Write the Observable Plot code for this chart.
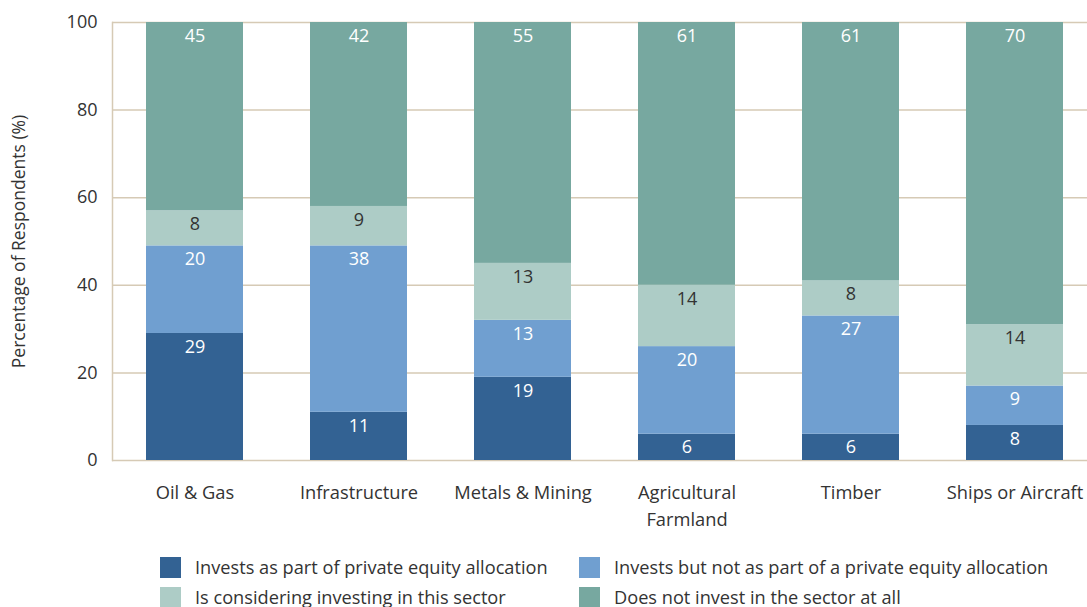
<!DOCTYPE html>
<html>
<head>
<meta charset="utf-8">
<script src="https://cdn.jsdelivr.net/npm/d3@7"></script>
<script src="https://cdn.jsdelivr.net/npm/@observablehq/plot@0.6"></script>
<style>
  html, body { margin: 0; padding: 0; background: #fff; }
  body { width: 1087px; height: 607px; overflow: hidden; font-family: "Open Sans", Lato, sans-serif; color: #333; }
  #legend { position: relative; height: 67px; }
  .item { position: absolute; display: flex; align-items: center; font-size: 18.2px; height: 22px; white-space: nowrap; }
  .sw { width: 21px; height: 21px; margin-right: 14px; flex: none; }
</style>
</head>
<body>
<div id="chart"></div>
<div id="legend"></div>
<script>
const categories = ["Oil & Gas", "Infrastructure", "Metals & Mining", "Agricultural\nFarmland", "Timber", "Ships or Aircraft"];
const seriesNames = [
  "Invests as part of private equity allocation",
  "Invests but not as part of a private equity allocation",
  "Is considering investing in this sector",
  "Does not invest in the sector at all"
];
const seriesColors = ["#336293", "#709fd0", "#adccc6", "#77a8a0"];
const labelColors = ["#ffffff", "#ffffff", "#333333", "#ffffff"];
const investsPE = [29, 11, 19, 6, 6, 8];
const investsNonPE = [20, 38, 13, 20, 27, 9];
const considering = [8, 9, 13, 14, 8, 14];
const notInvest = [45, 42, 55, 61, 61, 70];
const yTicks = [0, 20, 40, 60, 80, 100];

const seriesValues = [investsPE, investsNonPE, considering, notInvest];
const rows = [];
categories.forEach((c, i) => {
  let cum = 0;
  seriesValues.forEach((vals, s) => {
    const v = vals[i];
    rows.push({category: c, series: seriesNames[s], value: v, y1: cum, y2: cum + v,
               top: Math.min(cum + v, 100), labelColor: labelColors[s]});
    cum += v;
  });
});

const gridColor = "#d6cab5";
const chart = Plot.plot({
  width: 1087,
  height: 540,
  marginLeft: 112,
  marginRight: 0,
  marginTop: 22,
  marginBottom: 80,
  style: {fontFamily: "'Open Sans', Lato, sans-serif", fontSize: "18px", color: "#333", background: "#fff", overflow: "visible"},
  x: {domain: categories, range: [112.4, 1097], paddingInner: 0.41, paddingOuter: 0.205},
  y: {domain: [0, 100]},
  color: {domain: seriesNames, range: seriesColors},
  marks: [
    Plot.ruleY(yTicks, {stroke: gridColor, strokeWidth: 1.5}),
    Plot.frame({anchor: "left", stroke: gridColor, strokeWidth: 1.5}),
    Plot.barY(rows, {x: "category", y1: "y1", y2: "y2", fill: "series", clip: true}),
    Plot.text(rows, {x: "category", y: "top", text: d => String(d.value), fill: "labelColor", dy: 13.5, lineAnchor: "middle", fontSize: 18}),
    Plot.axisY({ticks: yTicks, tickSize: 0, tickPadding: 15, fontSize: 18, label: null}),
    Plot.axisY({ticks: [], tickSize: 0, fontSize: 17.5, label: "Percentage of Respondents (%)", labelAnchor: "center", labelArrow: "none", labelOffset: 100}),
    Plot.axisX({tickSize: 0, tickPadding: 19, fontSize: 18.3, lineHeight: 1.5, label: null})
  ]
});
document.getElementById("chart").appendChild(chart);

const legend = document.getElementById("legend");
const pos = [[160, 16], [579, 16], [160, 46], [579, 46]];
[0, 1, 2, 3].forEach((s, k) => {
  const it = document.createElement("div");
  it.className = "item";
  it.style.left = pos[k][0] + "px";
  it.style.top = pos[k][1] + "px";
  it.innerHTML = `<span class="sw" style="background:${seriesColors[s]}"></span><span>${seriesNames[s]}</span>`;
  legend.appendChild(it);
});
</script>
</body>
</html>
